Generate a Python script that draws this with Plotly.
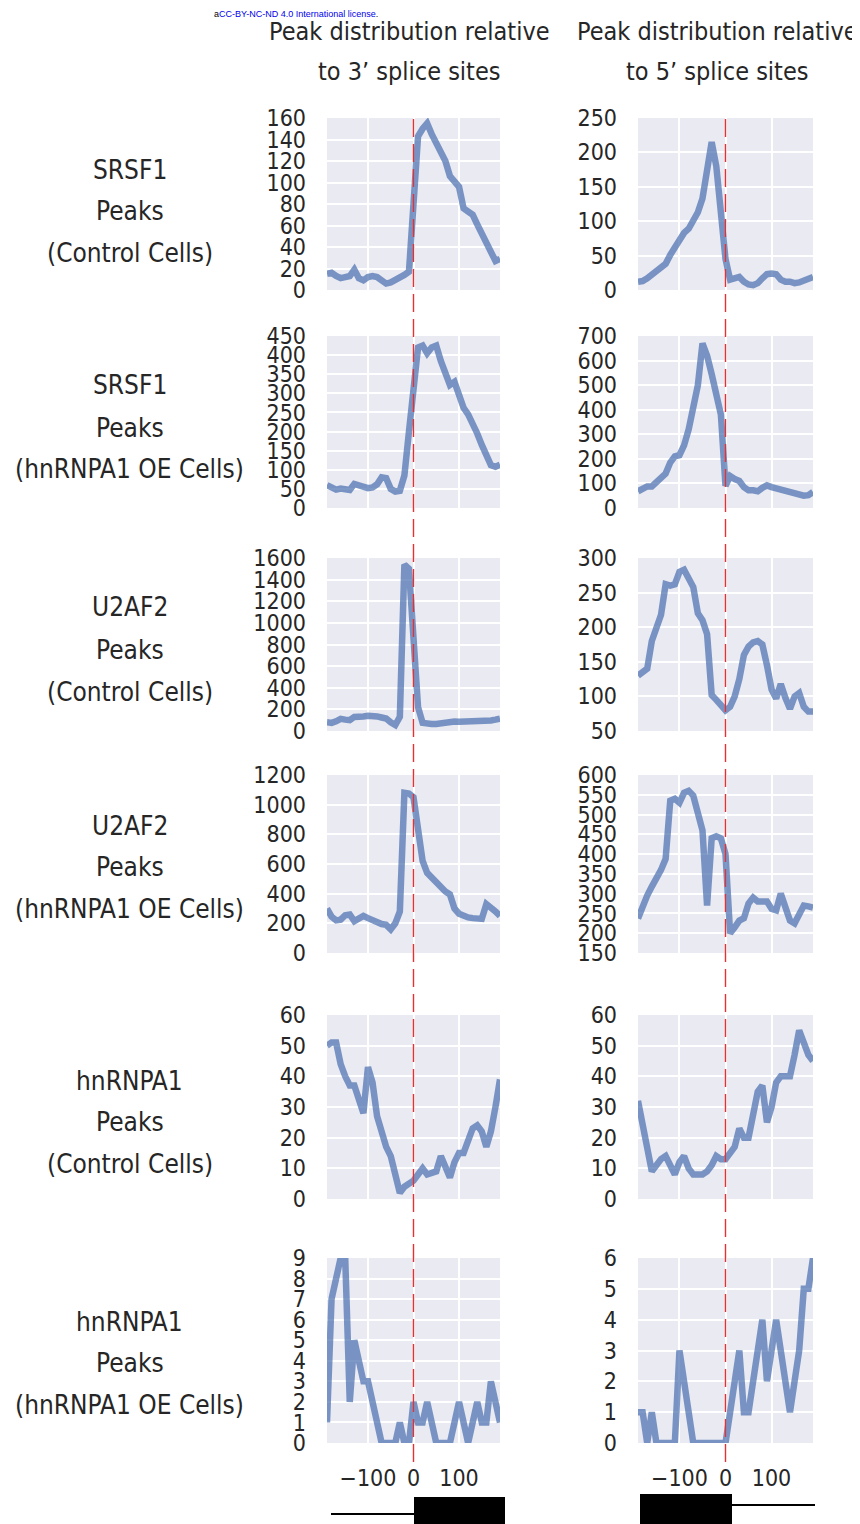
import plotly.graph_objects as go

W, H = 860, 1524

# distance to splice site (nt)
pos = list(range(-190, 200, 10))

srsf1_ctrl_3ss = [15, 16, 13, 11, 12, 13, 19, 11, 9, 12, 13, 12, 9, 6, 7, 9, 12, 14, 17, 90,
                  143, 150, 155, 145, 137, 130, 120, 106, 102, 96, 76, 73, 70, 61, 52, 43, 33, 27, 29]
srsf1_ctrl_5ss = [12, 13, 17, 23, 29, 34, 38, 51, 62, 74, 83, 89, 100, 113, 133, 180, 215, 180, 100, 45,
                  15, 17, 19, 12, 8, 7, 10, 17, 23, 24, 23, 15, 12, 12, 10, 11, 14, 17, 19]
srsf1_oe_3ss = [60, 52, 48, 51, 49, 47, 63, 60, 56, 52, 54, 62, 80, 78, 50, 43, 45, 85, 200, 300,
                420, 425, 405, 420, 425, 385, 350, 322, 330, 295, 262, 245, 222, 195, 165, 138, 112, 108, 113]
srsf1_oe_5ss = [68, 82, 88, 88, 105, 122, 140, 185, 210, 215, 255, 320, 400, 500, 670, 620, 545, 460, 380, 90,
                130, 118, 110, 85, 72, 72, 68, 82, 92, 85, 80, 76, 72, 65, 60, 55, 50, 52, 65]
u2af2_ctrl_3ss = [80, 75, 90, 112, 105, 100, 130, 140, 135, 140, 142, 135, 125, 115, 80, 55, 130, 1540, 1500, 850,
                  220, 75, 65, 65, 65, 70, 80, 95, 88, 85, 85, 95, 100, 100, 98, 100, 98, 105, 115]
u2af2_ctrl_5ss = [130, 134, 140, 180, 200, 218, 262, 260, 262, 280, 283, 272, 258, 220, 210, 190, 102, 95, 87, 80,
                  85, 100, 125, 160, 172, 178, 180, 175, 145, 110, 97, 118, 98, 82, 100, 105, 85, 78, 78]
u2af2_oe_3ss = [300, 245, 220, 225, 255, 260, 215, 235, 250, 235, 220, 205, 195, 190, 160, 200, 280, 1080, 1075, 1050,
                800, 620, 540, 510, 480, 435, 415, 395, 300, 265, 250, 240, 235, 230, 230, 330, 310, 280, 250]
u2af2_oe_5ss = [237, 270, 295, 318, 338, 360, 388, 535, 540, 530, 555, 560, 548, 500, 460, 270, 440, 445, 440, 400,
                200, 215, 232, 238, 275, 290, 280, 280, 280, 262, 258, 300, 260, 232, 225, 250, 270, 268, 265]
hnrnpa1_ctrl_3ss = [50, 51, 51, 44, 40, 37, 37, 33, 28, 43, 38, 27, 22, 17, 14, 8, 2, 4, 5, 6,
                    8, 10, 8, 8.5, 9, 14, 11, 7, 12, 15, 15, 19, 23, 24, 22, 17, 22, 30, 39]
hnrnpa1_ctrl_5ss = [32, 24, 17, 9, 11, 13, 14, 11, 8, 12, 14, 10, 8, 8, 8, 9, 11, 14, 13, 13,
                    15, 17, 23, 20, 20, 28, 35, 37, 25, 30, 38, 40, 40, 40, 47, 55, 51, 47, 45]
hnrnpa1_oe_3ss = [1, 7, 8, 9, 9, 2, 5, 4, 3, 3, 2, 1, 0, 0, 0, 0, 1, 0, 0, 2,
                  1, 1, 2, 1, 0, 0, 0, 0, 1, 2, 1, 0, 1, 2, 1, 1, 3, 2, 1]
hnrnpa1_oe_5ss = [1, 1, 0, 1, 0, 0, 0, 0, 0, 3, 2, 1, 0, 0, 0, 0, 0, 0, 0, 0,
                  1, 2, 3, 1, 1, 2, 3, 4, 2, 3, 4, 3, 2, 1, 2, 3, 5, 5, 6]

row_labels = [
    ("SRSF1", "Peaks", "(Control Cells)"),
    ("SRSF1", "Peaks", "(hnRNPA1 OE Cells)"),
    ("U2AF2", "Peaks", "(Control Cells)"),
    ("U2AF2", "Peaks", "(hnRNPA1 OE Cells)"),
    ("hnRNPA1", "Peaks", "(Control Cells)"),
    ("hnRNPA1", "Peaks", "(hnRNPA1 OE Cells)"),
]
col_titles = [("Peak distribution relative", "to 3\u2019 splice sites"),
              ("Peak distribution relative", "to 5\u2019 splice sites")]

series = [
    (srsf1_ctrl_3ss, srsf1_ctrl_5ss),
    (srsf1_oe_3ss, srsf1_oe_5ss),
    (u2af2_ctrl_3ss, u2af2_ctrl_5ss),
    (u2af2_oe_3ss, u2af2_oe_5ss),
    (hnrnpa1_ctrl_3ss, hnrnpa1_ctrl_5ss),
    (hnrnpa1_oe_3ss, hnrnpa1_oe_5ss),
]
# (ymin, ymax, dtick) for 3'ss and 5'ss panels
yscales = [
    ((0, 160, 20), (0, 250, 50)),
    ((0, 450, 50), (0, 700, 100)),
    ((0, 1600, 200), (50, 300, 50)),
    ((0, 1200, 200), (150, 600, 50)),
    ((0, 60, 10), (0, 60, 10)),
    ((0, 9, 1), (0, 6, 1)),
]

# panel placement in screen pixels
row_px = [(118, 290), (336, 508), (558, 731), (775, 953), (1015, 1199), (1258, 1443)]
col_px = [(327, 500), (638, 813)]
label_y = [(170, 211, 253), (385, 428, 469), (607, 650, 692),
           (826, 867, 909), (1081, 1122, 1164), (1322, 1363, 1405)]

FONT = "DejaVu Sans Condensed, Liberation Sans Narrow, Arial Narrow, sans-serif"
TXT = "#262626"
LINE = "rgba(76,114,176,0.72)"
OFF = 8  # page body margin


def px_x(p):
    return (p - OFF) / W


def px_y(p):
    return 1 - (p - OFF) / H


fig = go.Figure()
layout = {}
n = 0
for r in range(6):
    for c in range(2):
        n += 1
        fig.add_trace(go.Scatter(
            x=pos, y=series[r][c], mode="lines",
            line=dict(color=LINE, width=6.5),
            xaxis="x%d" % n, yaxis="y%d" % n, showlegend=False,
        ))
        y0, y1, dt = yscales[r][c]
        layout["xaxis%d" % n] = dict(
            domain=[px_x(col_px[c][0]), px_x(col_px[c][1])],
            anchor="y%d" % n, range=[-190, 190], tick0=0, dtick=100,
            showgrid=True, gridcolor="white", gridwidth=2, zeroline=False,
            showline=False, ticks="", showticklabels=(r == 5),
            ticklabelstandoff=19, automargin=False,
            tickfont=dict(family=FONT, size=23, color=TXT),
        )
        layout["yaxis%d" % n] = dict(
            domain=[px_y(row_px[r][1]), px_y(row_px[r][0])],
            anchor="x%d" % n, range=[y0, y1], tick0=y0, dtick=dt,
            showgrid=True, gridcolor="white", gridwidth=2, zeroline=False,
            showline=False, ticks="", ticklabelstandoff=20, automargin=False,
            tickfont=dict(family=FONT, size=23, color=TXT),
        )

annotations = []
for r, lines in enumerate(row_labels):
    for txt, yy in zip(lines, label_y[r]):
        annotations.append(dict(
            x=px_x(130), y=px_y(yy), xref="paper", yref="paper", text=txt,
            showarrow=False, xanchor="center", yanchor="middle",
            font=dict(family=FONT, size=26, color=TXT),
        ))
for c, (l1, l2) in enumerate(col_titles):
    cx = [409, 717][c]
    for txt, yy in zip((l1, l2), (31, 71)):
        annotations.append(dict(
            x=px_x(cx), y=px_y(yy), xref="paper", yref="paper", text=txt,
            showarrow=False, xanchor="center", yanchor="middle",
            font=dict(family=FONT, size=25, color=TXT),
        ))
annotations.append(dict(
    x=px_x(213), y=1, xref="paper", yref="paper",
    text="a<span style='color:#0000ee'>CC-BY-NC-ND 4.0 International license</span>.",
    showarrow=False, xanchor="left", yanchor="top", borderpad=0,
    font=dict(family="Liberation Sans, Arial, sans-serif", size=9, color="black"),
))

shapes = []
# splice site marker
for xr in ("x", "x2"):
    shapes.append(dict(type="line", xref=xr, yref="paper", x0=0, x1=0,
                       y0=px_y(1462), y1=px_y(115),
                       line=dict(color="#e33236", width=1.4, dash="18px,7px")))
# exon/intron diagrams
shapes += [
    dict(type="line", xref="paper", yref="paper", x0=px_x(331), x1=px_x(414),
         y0=px_y(1514), y1=px_y(1514), line=dict(color="black", width=2)),
    dict(type="rect", xref="paper", yref="paper", x0=px_x(414), x1=px_x(505),
         y0=px_y(1540), y1=px_y(1497), fillcolor="black", line=dict(width=0)),
    dict(type="rect", xref="paper", yref="paper", x0=px_x(640), x1=px_x(732),
         y0=px_y(1540), y1=px_y(1494), fillcolor="black", line=dict(width=0)),
    dict(type="line", xref="paper", yref="paper", x0=px_x(732), x1=px_x(815),
         y0=px_y(1505), y1=px_y(1505), line=dict(color="black", width=2)),
]

fig.update_layout(
    width=W, height=H, margin=dict(l=0, r=0, t=0, b=0),
    plot_bgcolor="#EAEAF2", paper_bgcolor="white",
    annotations=annotations, shapes=shapes, **layout,
)

fig.write_html("out.html")
